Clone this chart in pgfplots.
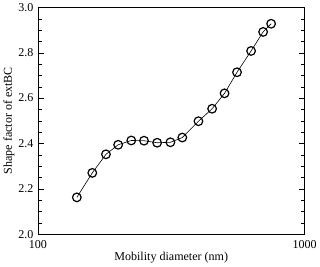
\documentclass[border=0pt]{standalone}
\usepackage{pgfplots}
\pgfplotsset{compat=1.18}
\usepackage{fontspec}
\setmainfont{Liberation Serif}
\begin{document}
\begin{tikzpicture}
\begin{axis}[
  scale only axis,
  width=266pt, height=226pt,
  xmode=log, xmin=100, xmax=1000,
  ymin=2.0, ymax=3.0,
  log basis x=10,
  xtick={100,1000}, xticklabels={100,1000},
  ytick={2.0,2.2,2.4,2.6,2.8,3.0},
  yticklabel style={/pgf/number format/fixed,/pgf/number format/fixed zerofill,/pgf/number format/precision=1},
  minor y tick num=3,
  /pgf/number format/assume math mode=true,
  tick align=inside,
  major tick length=6pt, minor tick length=4pt,
  tick style={black, line width=0.5pt},
  axis line style={line width=0.6pt},
  xlabel={Mobility diameter (nm)},
  ylabel={Shape factor of extBC},
  label style={font=\fontsize{12}{14}\selectfont},
  tick label style={font=\fontsize{12}{14}\selectfont},
  xticklabel style={yshift=-3pt},
  yticklabel style={xshift=-1pt},
  xlabel style={yshift=3pt},
  ylabel style={yshift=-3pt},
]
\addplot[black, line width=0.6pt, mark=o, mark size=4.3pt, mark options={line width=1.2pt, solid}] coordinates {
(140,2.162) (160,2.270) (180,2.352) (200,2.394) (224,2.413) (250,2.412)
(280,2.403) (314,2.405) (348,2.426) (400,2.498) (450,2.553) (501,2.621)
(558,2.714) (630,2.808) (699,2.892) (749,2.928)
};
\end{axis}
\end{tikzpicture}
\end{document}
